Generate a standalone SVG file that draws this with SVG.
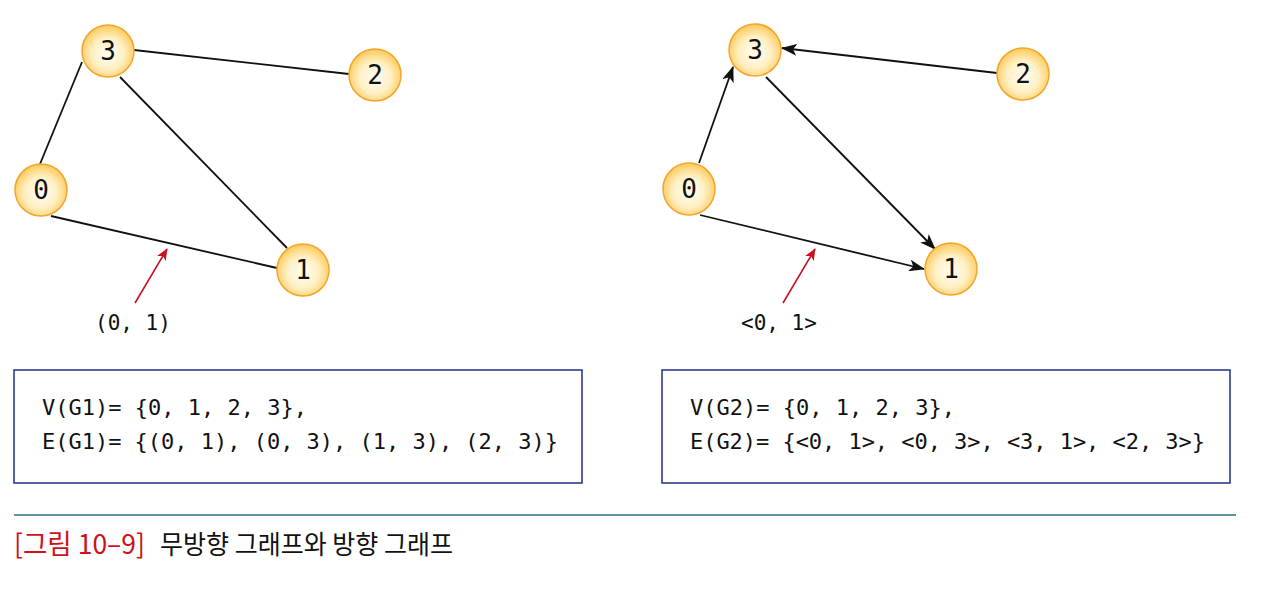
<svg xmlns="http://www.w3.org/2000/svg" width="1280" height="591" viewBox="0 0 1280 591">
<style>
.node circle{fill:url(#g);stroke:#f5a52a;stroke-width:1.5}
.node text{font-family:"DejaVu Sans Mono","Liberation Mono",monospace;font-size:26px;fill:#111;text-anchor:middle;dominant-baseline:central}
.edge{stroke:#111;stroke-width:1.8;fill:none}
.dir{marker-end:url(#ah)}
.red{stroke:#c8101e;stroke-width:1.6;fill:none;marker-end:url(#rh)}
.mono{font-family:"DejaVu Sans Mono","Liberation Mono",monospace;fill:#111}
.box{fill:#fff;stroke:#2b3d8f;stroke-width:1.6}
.cap{font-family:"Noto Sans CJK KR",sans-serif}
</style>
<defs>
<radialGradient id="g" cx="50%" cy="55%" r="55%">
<stop offset="0" stop-color="#fffdf5"/>
<stop offset="0.55" stop-color="#fff0c4"/>
<stop offset="1" stop-color="#fcc95a"/>
</radialGradient>
<marker id="ah" viewBox="0 0 16 12" refX="15" refY="6" markerWidth="16" markerHeight="12" markerUnits="userSpaceOnUse" orient="auto">
<path d="M0,0 L16,6 L0,12 L4,6 z" fill="#111"/>
</marker>
<marker id="rh" viewBox="0 0 12 10" refX="11" refY="5" markerWidth="12" markerHeight="10" markerUnits="userSpaceOnUse" orient="auto">
<path d="M0,0 L12,5 L0,10 L3,5 z" fill="#c8101e"/>
</marker>
</defs>
<rect width="1280" height="591" fill="#fff"/>
<g id="connectors">
<line class="edge" x1="134" y1="50" x2="349" y2="74"/>
<line class="edge" x1="82" y1="62" x2="40" y2="164"/>
<line class="edge" x1="120" y1="77" x2="287" y2="248"/>
<line class="edge" x1="51" y1="216" x2="277" y2="268"/>
<line class="red" x1="135" y1="303" x2="167" y2="249"/>
<line class="edge dir" x1="997" y1="73" x2="782" y2="48"/>
<line class="edge dir" x1="699" y1="163" x2="733" y2="67"/>
<line class="edge dir" x1="766" y1="77" x2="935" y2="249"/>
<line class="edge dir" x1="700" y1="215" x2="924" y2="269"/>
<line class="red" x1="783" y1="303" x2="815" y2="249"/>
</g>
<g id="g1n3" class="node"><circle cx="108" cy="51" r="26"/><text x="108" y="51">3</text></g>
<g id="g1n2" class="node"><circle cx="375" cy="75" r="26"/><text x="375" y="75">2</text></g>
<g id="g1n0" class="node"><circle cx="41" cy="190" r="26"/><text x="41" y="190">0</text></g>
<g id="g1n1" class="node"><circle cx="303" cy="270" r="26"/><text x="303" y="270">1</text></g>
<g id="g2n3" class="node"><circle cx="755" cy="50" r="26"/><text x="755" y="50">3</text></g>
<g id="g2n2" class="node"><circle cx="1023" cy="74" r="26"/><text x="1023" y="74">2</text></g>
<g id="g2n0" class="node"><circle cx="689" cy="189" r="26"/><text x="689" y="189">0</text></g>
<g id="g2n1" class="node"><circle cx="951" cy="269" r="26"/><text x="951" y="269">1</text></g>
<text class="mono" x="95" y="330" font-size="21">(0, 1)</text>
<text class="mono" x="741" y="330" font-size="21">&lt;0, 1&gt;</text>
<g id="box1">
<rect class="box" x="14" y="370" width="568" height="113"/>
<text class="mono" x="42" y="415" font-size="22">V(G1)= {0, 1, 2, 3},</text>
<text class="mono" x="42" y="449" font-size="22" textLength="516">E(G1)= {(0, 1), (0, 3), (1, 3), (2, 3)}</text>
</g>
<g id="box2">
<rect class="box" x="662" y="370" width="568" height="113"/>
<text class="mono" x="690" y="415" font-size="22">V(G2)= {0, 1, 2, 3},</text>
<text class="mono" x="690" y="449" font-size="22" textLength="515">E(G2)= {&lt;0, 1&gt;, &lt;0, 3&gt;, &lt;3, 1&gt;, &lt;2, 3&gt;}</text>
</g>
<line x1="14" y1="515" x2="1236" y2="515" stroke="#2a6f8a" stroke-width="1.5"/>
<text class="cap" x="14" y="554" font-size="27" fill="#d0101a" textLength="131" lengthAdjust="spacingAndGlyphs">[그림 10–9]</text>
<text class="cap" x="160" y="554" font-size="26" fill="#111" textLength="293" lengthAdjust="spacingAndGlyphs">무방향 그래프와 방향 그래프</text>
</svg>
